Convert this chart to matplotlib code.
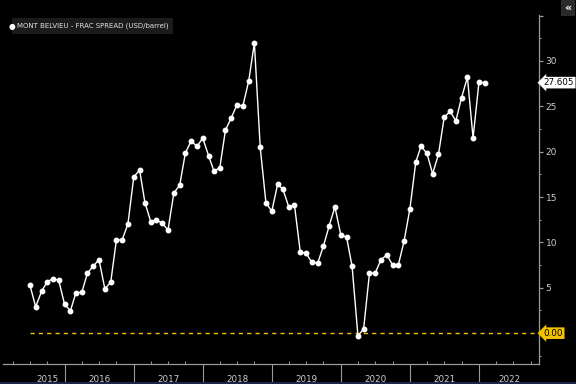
import matplotlib
matplotlib.use("Agg")
import matplotlib.pyplot as plt
import matplotlib.dates as mdates
from matplotlib.ticker import MultipleLocator, FixedFormatter, FixedLocator
import pandas as pd

# monthly frac spread, Jul 2015 - Feb 2022
start_month = "2015-07-01"
spread = [
    5.34, 2.91, 4.60, 5.67, 6.00, 5.82, 3.17, 2.47, 4.46, 4.49, 6.62, 7.40,
    8.10, 4.90, 5.60, 10.26, 10.31, 12.03, 17.22, 17.96, 14.39, 12.27, 12.47, 12.11,
    11.36, 15.45, 16.30, 19.86, 21.19, 20.57, 21.49, 19.54, 17.88, 18.21, 22.37, 23.73,
    25.17, 25.02, 27.78, 31.98, 20.46, 14.39, 13.43, 16.41, 15.86, 13.91, 14.13, 8.91,
    8.83, 7.80, 7.73, 9.57, 11.85, 13.91, 10.86, 10.56, 7.36, -0.33, 0.49, 6.62,
    6.62, 8.10, 8.63, 7.51, 7.55, 10.14, 13.73, 18.87, 20.61, 19.80, 17.57, 19.70,
    23.77, 24.44, 23.40, 25.94, 28.19, 21.52, 27.64, 27.605,
]
years = [2015, 2016, 2017, 2018, 2019, 2020, 2021, 2022]
yticks = [0, 5, 10, 15, 20, 25, 30, 35]
ylabels = ["", "5", "10", "15", "20", "25", "30", ""]
last_label = "27.605"
title = "MONT BELVIEU - FRAC SPREAD (USD/barrel)"

dates = pd.date_range(start_month, periods=len(spread), freq="MS")

bg = "black"
axis_col = "#9a9a9a"
txt_col = "#cfcfcf"
gold = "#f2c200"

fig = plt.figure(figsize=(5.76, 3.84), dpi=100, facecolor=bg)
ax = fig.add_axes([0.0045, 0.0508, 0.932, 0.910], facecolor=bg)

ax.plot(dates, spread, color="white", lw=1.0, marker="o", ms=3.2,
        mfc="white", mec="white", zorder=3)

# zero line
ax.hlines(0, dates[0], pd.Timestamp("2022-11-17"), colors=gold, lw=1.0,
          linestyles=(0, (3, 3)), zorder=2)

ax.set_xlim(pd.Timestamp("2015-02-07"), pd.Timestamp("2022-11-17"))
ax.set_ylim(-3.45, 35.05)

for s in ["top", "left"]:
    ax.spines[s].set_visible(False)
for s in ["bottom", "right"]:
    ax.spines[s].set_color(axis_col)
    ax.spines[s].set_linewidth(0.9)

# right axis
ax.yaxis.tick_right()
ax.yaxis.set_major_locator(FixedLocator(yticks))
ax.yaxis.set_major_formatter(FixedFormatter(ylabels))
ax.yaxis.set_minor_locator(MultipleLocator(2.5))
ax.tick_params(axis="y", which="major", direction="out", length=3, width=0.9,
               colors=axis_col, labelcolor=txt_col, labelsize=6.5, pad=1.5)
ax.tick_params(axis="y", which="minor", direction="out", length=1.5, width=0.7,
               colors=axis_col)

# bottom axis: year separators + quarterly ticks
ax.xaxis.set_major_locator(mdates.YearLocator())
ax.xaxis.set_major_formatter(FixedFormatter([""] * 20))
ax.xaxis.set_minor_locator(mdates.MonthLocator(bymonth=[1, 4, 7, 10]))
ax.tick_params(axis="x", which="major", direction="out", length=15, width=0.8,
               colors=axis_col)
ax.tick_params(axis="x", which="minor", direction="in", length=2, width=0.7,
               colors=axis_col)

xt = ax.get_xaxis_transform()
for y in years:
    if y == 2015:
        pos = pd.Timestamp("2015-10-01")
    elif y == 2022:
        pos = pd.Timestamp("2022-06-09")
    else:
        pos = pd.Timestamp(f"{y}-07-02")
    ax.text(pos, -0.042, str(y), transform=xt, ha="center", va="center",
            color=txt_col, fontsize=6.3)

# value tags on the right axis
yt = ax.get_yaxis_transform()
ax.text(1.008, spread[-1], last_label, transform=yt, ha="left", va="center",
        fontsize=6.3, color="black",
        bbox=dict(boxstyle="larrow,pad=0.15", fc="white", ec="none"))
ax.text(1.008, 0, "0.00", transform=yt, ha="left", va="center",
        fontsize=6.3, color="black",
        bbox=dict(boxstyle="larrow,pad=0.15", fc=gold, ec="none"))

# legend box
fig.text(17 / 576, 1 - 26 / 384, title, ha="left", va="center", fontsize=5.0,
         color="#e0e0e0",
         bbox=dict(boxstyle="square,pad=0.7", fc="#1b1b1b", ec="none"))
fig.text(8.5 / 576, 1 - 26 / 384, "\u25cf", ha="left", va="center",
         fontsize=5.5, color="white")

# top right collapse button
fig.text(568 / 576, 1 - 8 / 384, "\u00ab", ha="center", va="center",
         fontsize=8, color="white", fontweight="bold",
         bbox=dict(boxstyle="square,pad=0.3", fc="#2a2a2a", ec="none"))

# bottom border
fig.add_artist(plt.Line2D([0, 1], [0.002, 0.002], color="#1c2448", lw=1.5))

fig.savefig("out.png", dpi=100, facecolor=bg)
